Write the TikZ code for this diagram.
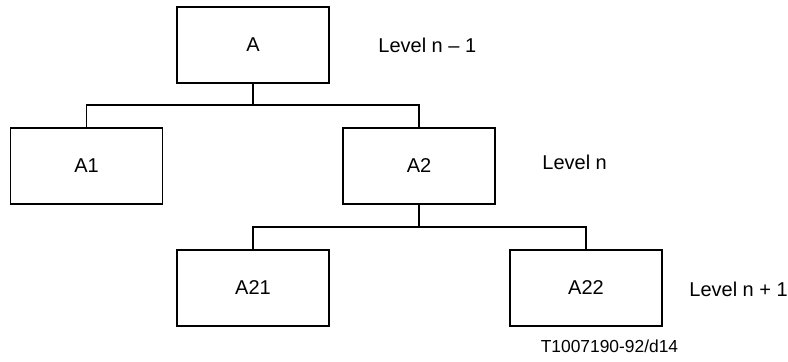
\documentclass[tikz,border=0pt]{standalone}
\usepackage{fontspec}
\setmainfont{Liberation Sans}
\usepackage{tikz}

\begin{document}
\begin{tikzpicture}[x=0.5pt,y=-0.5pt,
	box/.style={draw,line width=0.6pt,minimum width=76pt,minimum height=38pt,inner sep=0pt},
	stem/.style={line width=1pt},
	branch/.style={line width=0.6pt},
	level/.style={anchor=west,inner sep=0pt}]
	\useasboundingbox (0,0) rectangle (788,361);

	\node(A) [box] at (253,45) {A};
	\node(A1) [box] at (86.5,166) {A1};
	\node(A2) [box] at (419,166) {A2};
	\node(A21) [box] at (253,288) {A21};
	\node(A22) [box] at (586,288) {A22};

	\node(Lm) [level] at (378,45) {Level n – 1};
	\node(Ln) [level] at (542,162) {Level n};
	\node(Lp) [level] at (689,289) {Level n + 1};
	\node(ref) at (609.5,346) {\fontsize{8.7}{10}\selectfont T1007190-92/d14};

	\coordinate(jA) at (253,105);
	\coordinate(jA2) at (419,227);

	\draw[stem](A) -- (jA);
	\draw[branch](jA) -| (A1);
	\draw[branch](jA) -| (A2);
	\draw[stem](A2) -- (jA2);
	\draw[branch](jA2) -| (A21);
	\draw[branch](jA2) -| (A22);

	\end{tikzpicture}
\end{document}
